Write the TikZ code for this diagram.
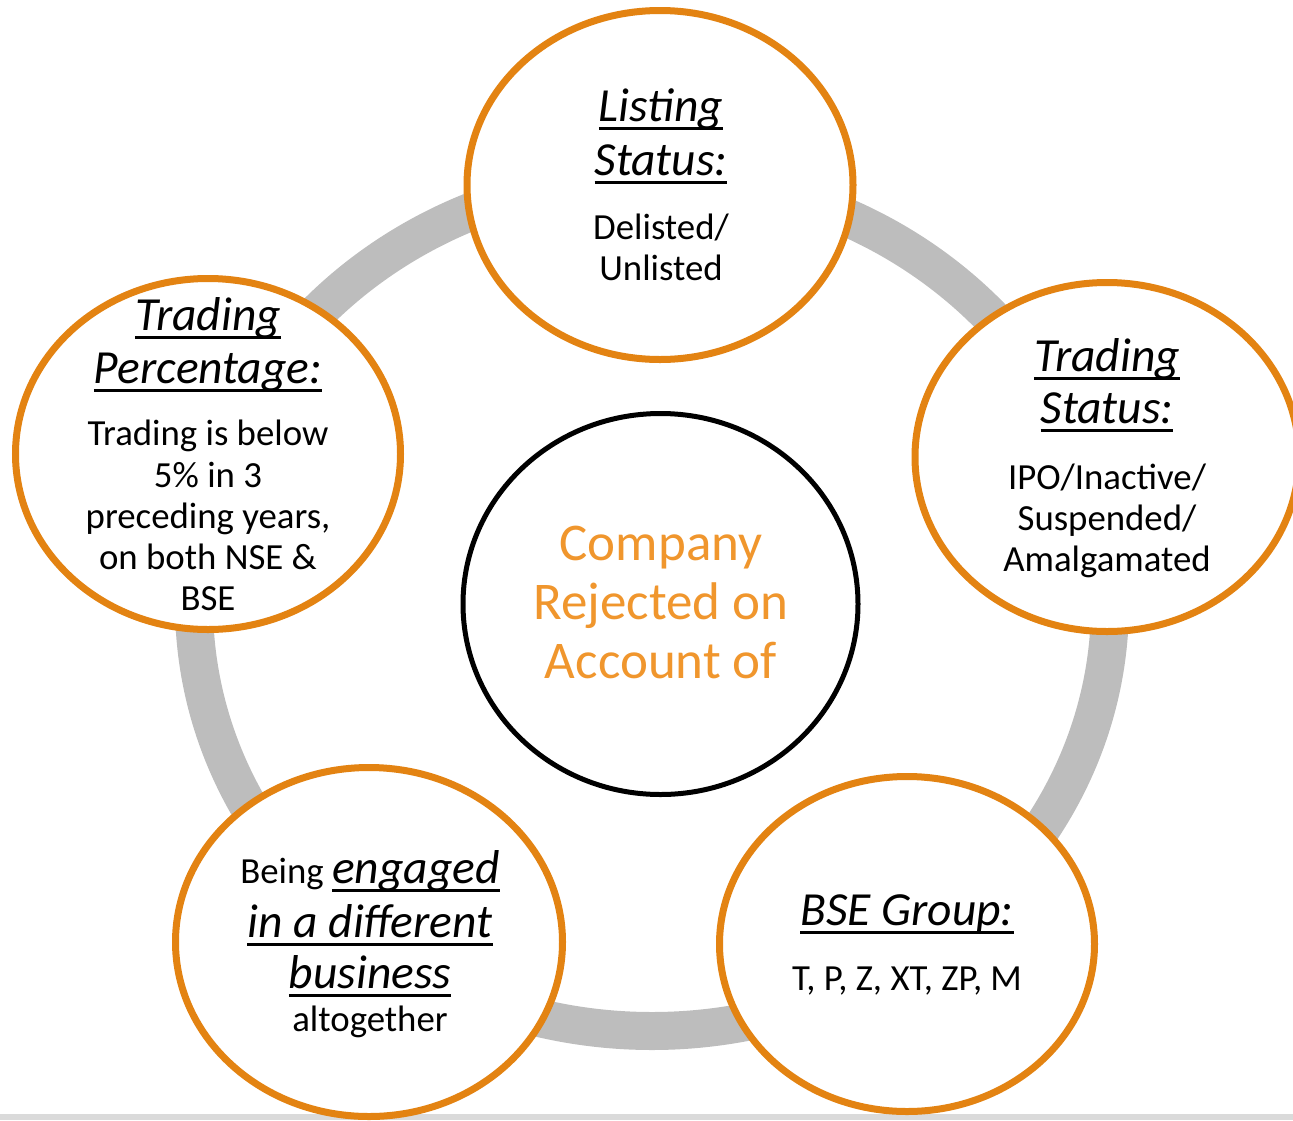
\documentclass[tikz,border=0pt]{standalone}
\usepackage{fontspec}
\setmainfont{Carlito}
\usetikzlibrary{shapes.geometric}

\definecolor{satOrange}{RGB}{227,131,18}
\definecolor{hubOrange}{RGB}{240,150,45}
\definecolor{ringGray}{RGB}{189,189,189}
\definecolor{barGray}{RGB}{218,218,218}

% underline drawn at a fixed depth, so descenders cross it
\newcommand\undl[1]{\setbox0\hbox{#1}\rlap{\rule[-8.5pt]{\wd0}{3pt}}\box0}

\tikzset{
  sat/.style={ellipse, draw=satOrange, line width=7pt, fill=white, inner sep=0pt},
  hub/.style={ellipse, draw=black, line width=5pt, fill=white, inner sep=0pt},
  ttl/.style={anchor=base, inner sep=0pt, font=\fontsize{47.5}{54}\selectfont\itshape},
  bdy/.style={anchor=base, inner sep=0pt, font=\fontsize{36.8}{42}\selectfont},
  hubtxt/.style={anchor=base, inner sep=0pt, text=hubOrange, font=\fontsize{53}{59}\selectfont},
}

\begin{document}
\begin{tikzpicture}[x=1pt,y=-1pt]
\useasboundingbox (0,0) rectangle (1293,1120);
\clip (0,0) rectangle (1293,1120);

% strip along the lower edge
\fill[barGray] (0,1114) rectangle (1293,1120);

% ring joining the five criteria
\draw[ringGray, line width=38pt] (652,604) ellipse [x radius=458, y radius=427];

% criteria circles
\node[sat, minimum width=386pt, minimum height=349pt] (listing) at (660,185) {};
\node[sat, minimum width=384pt, minimum height=349pt] (tstatus) at (1107,457) {};
\node[sat, minimum width=375pt, minimum height=335pt] (bse) at (907,944) {};
\node[sat, minimum width=387pt, minimum height=349pt] (business) at (369,942) {};
\node[sat, minimum width=385pt, minimum height=351pt] (tpct) at (208,454) {};

% central circle
\node[hub, minimum width=395pt, minimum height=381pt] (hub) at (660.5,604) {};

% central text
\node[hubtxt] (h1) at (661,560) {Company};
\node[hubtxt] (h2) at (661,619) {Rejected on};
\node[hubtxt] (h3) at (661,678) {Account of};

% listing status
\node[ttl] (l1) at (661,121) {\undl{Listing}};
\node[ttl] (l2) at (661,175) {\undl{Status:}};
\node[bdy] (l3) at (661,239) {Delisted/};
\node[bdy] (l4) at (661,280.5) {Unlisted};

% trading status
\node[ttl] (s1) at (1107,371) {\undl{Trading}};
\node[ttl] (s2) at (1107,423) {\undl{Status:}};
\node[bdy] (s3) at (1107,489) {IPO/Inactive/};
\node[bdy] (s4) at (1107,530) {Suspended/};
\node[bdy] (s5) at (1107,571.5) {Amalgamated};

% BSE group
\node[ttl] (g1) at (907,925.5) {\undl{BSE Group:}};
\node[bdy] (g2) at (907,990) {T, P, Z, XT, ZP, M};

% different business
\node[anchor=base, inner sep=0pt] (b1) at (370,883)
  {{\fontsize{36.8}{42}\selectfont Being }{\fontsize{47.5}{54}\selectfont\itshape\undl{engaged}}};
\node[ttl] (b2) at (370,937) {\undl{in a different}};
\node[ttl] (b3) at (370,988.5) {\undl{business}};
\node[bdy] (b4) at (370,1031.5) {altogether};

% trading percentage
\node[ttl] (p1) at (208,330) {\undl{Trading}};
\node[ttl] (p2) at (208,383) {\undl{Percentage:}};
\node[bdy] (p3) at (208,445) {Trading is below};
\node[bdy] (p4) at (208,487) {5\% in 3};
\node[bdy] (p5) at (208,528.5) {preceding years,};
\node[bdy] (p6) at (208,569.5) {on both NSE \&};
\node[bdy] (p7) at (208,610.5) {BSE};
\end{tikzpicture}
\end{document}
